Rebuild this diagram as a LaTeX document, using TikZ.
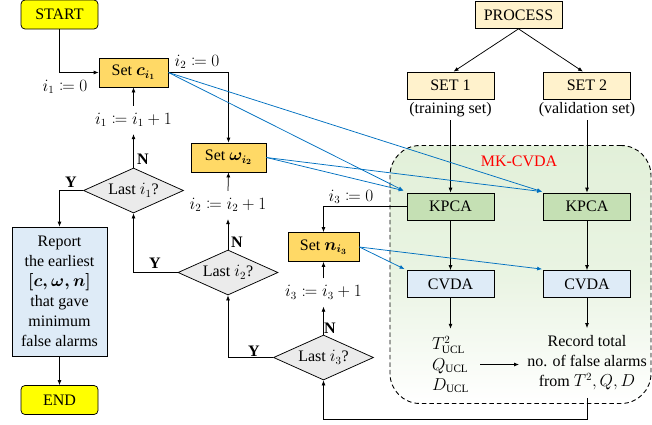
\documentclass[tikz,border=0pt]{standalone}
\usepackage{amsmath,mathtools}
\usepackage{fontspec}
\setmainfont{Liberation Serif}
\usetikzlibrary{arrows.meta,shapes.geometric}

\definecolor{termyellow}{HTML}{FFFF00}
\definecolor{setgold}{HTML}{FFD966}
\definecolor{decgray}{HTML}{EBEBEB}
\definecolor{reportblue}{HTML}{DEEBF7}
\definecolor{procyellow}{HTML}{FFF2CC}
\definecolor{kpcagreen}{HTML}{C5E0B4}
\definecolor{cvdablue}{HTML}{DEEBF7}
\definecolor{regiongreen}{HTML}{E2F0D9}
\definecolor{linkblue}{HTML}{0070C0}

\tikzset{
  base/.style={draw, line width=0.75pt, inner sep=2pt},
  term/.style={base, fill=termyellow, rounded corners=4pt, minimum width=77pt, minimum height=29pt},
  setbox/.style={base, fill=setgold, minimum height=29pt},
  dec/.style={base, shape=diamond, fill=decgray, aspect=2.22, inner sep=0.5pt,
              minimum width=100pt, minimum height=45pt},
  reportbox/.style={base, fill=reportblue, align=center, minimum width=95pt, minimum height=129pt},
  procbox/.style={base, fill=procyellow, minimum width=87pt, minimum height=27pt},
  kpcabox/.style={base, fill=kpcagreen, minimum width=87pt, minimum height=27pt},
  cvdabox/.style={base, fill=cvdablue, minimum width=87pt, minimum height=27pt},
  lbl/.style={inner xsep=3pt, inner ysep=3pt},
  inclbl/.style={inner xsep=3pt, inner ysep=7pt},
  yn/.style={font=\fontsize{16}{20}\selectfont\bfseries, inner sep=0pt},
  region/.style={draw, line width=0.9pt, dash pattern=on 4.5pt off 3pt, rounded corners=30pt,
                 top color=regiongreen, bottom color=white, middle color=regiongreen!75,
                 minimum width=261pt, minimum height=258pt},
  arr/.style={line width=0.75pt, -{Latex[length=5pt,width=4pt]}},
  bluearr/.style={line width=0.75pt, draw=linkblue, -{Latex[length=5pt,width=4pt]}, color=linkblue},
}

\begin{document}
\begin{tikzpicture}[x=1pt, y=-1pt, font=\fontsize{16}{20}\selectfont]
\useasboundingbox (0,0) rectangle (652,424);

% MK-CVDA area
\node[region] (mk) at (520.5,274.5) {};
\node[text=red] (mklabel) at (519,161) {MK-CVDA};

% left-hand loop structure
\node[term] (start) at (59.5,14.5) {START};
\node[setbox, minimum width=69pt] (setc) at (133.5,72.5) {Set $\boldsymbol{c_{i_1}}$};
\node[setbox, minimum width=75pt] (setw) at (228.5,157.5) {Set $\boldsymbol{\omega_{i_2}}$};
\node[setbox, minimum width=71pt] (setn) at (323.5,247) {Set $\boldsymbol{n_{i_3}}$};

\node[dec] (d1) at (133.5,190.5) {Last $i_1$?};
\node[dec] (d2) at (228,272.5) {Last $i_2$?};
\node[dec] (d3) at (323.5,357.5) {Last $i_3$?};

\node[inclbl] (inc1) at (133.5,120) {$i_1 \coloneqq i_1 + 1$};
\node[inclbl] (inc2) at (228,205) {$i_2 \coloneqq i_2 + 1$};
\node[inclbl] (inc3) at (323.5,292.5) {$i_3 \coloneqq i_3 + 1$};

\node[lbl] (init1) at (65,87) {$i_1 \coloneqq 0$};
\node[lbl] (init2) at (197,62) {$i_2 \coloneqq 0$};
\node[lbl] (init3) at (351,197) {$i_3 \coloneqq 0$};

\node[yn] (n1) at (143,159) {N};
\node[yn] (y1) at (71,182) {Y};
\node[yn] (n2) at (237,242) {N};
\node[yn] (y2) at (155,263) {Y};
\node[yn] (n3) at (330,328) {N};
\node[yn] (y3) at (254,351) {Y};

\node[reportbox] (report) at (59.5,291.5)
  {Report\\the earliest\\$\boldsymbol{[c,\omega,n]}$\\that gave\\minimum\\false alarms};
\node[term] (end) at (59.5,400) {END};

% process and data sets
\node[procbox] (proc) at (518.5,15) {PROCESS};
\node[procbox] (set1) at (450.5,85.5) {SET 1};
\node[procbox] (set2) at (587,85.5) {SET 2};
\node[lbl] (train) at (450.5,110) {(training set)};
\node[lbl] (valid) at (587,110) {(validation set)};

\node[kpcabox] (k1) at (450.5,206.5) {KPCA};
\node[kpcabox] (k2) at (587,206.5) {KPCA};
\node[cvdabox] (c1) at (450.5,284) {CVDA};
\node[cvdabox] (c2) at (587,284) {CVDA};

\node[lbl, align=left, inner ysep=7pt] (lim) at (450.5,364.5)
  {$T^2_{\mathrm{UCL}}$\\[1pt]$Q_{\mathrm{UCL}}$\\$D_{\mathrm{UCL}}$};
\node[lbl, align=center, inner ysep=7.5pt] (rec) at (587,363)
  {Record total\\no. of false alarms\\from $T^2, Q, D$};

\coordinate (loopc) at (587,419);

% flow connectors
\draw[arr] (start.south) |- (setc.west);
\draw[arr] (setc.east) -| (setw.north);
\draw[arr] (d1.north) -- (inc1.south);
\draw[arr] (inc1.north) -- (setc.south);
\draw[arr] (d2.north) -- (inc2.south);
\draw[arr] (inc2.north) -- (setw.south);
\draw[arr] (d3.north) -- (inc3.south);
\draw[arr] (inc3.north) -- (setn.south);
\draw[arr] (d1.west) -| (report.north);
\draw[arr] (d2.west) -| (d1.south);
\draw[arr] (d3.west) -| (d2.south);
\draw[arr] (report.south) -- (end.north);
\draw[arr] (k1.west) -| (setn.north);

\draw[arr] (proc.south) -- ([xshift=3pt]set1.north);
\draw[arr] (proc.south) -- ([xshift=-4pt]set2.north);
\draw[arr] (train) -- (k1);
\draw[arr] (valid) -- (k2);
\draw[arr] (k1) -- (c1);
\draw[arr] (k2) -- (c2);
\draw[arr] (c1.south) -- (c1.south |- lim.north);
\draw[arr] (c2.south) -- (rec.north);
\draw[arr] ([xshift=8pt]lim.east) -- ([xshift=-5pt]rec.west |- lim.east);
\draw[arr] (rec.south) -- (loopc) -| (d3.south);

% parameter links into the monitoring models
\draw[bluearr] (setc.east) -- ([shift={(-3,-2)}]k1.north west);
\draw[bluearr] (setc.east) -- ([shift={(-1,-1)}]k2.north west);
\draw[bluearr] (setw.east) -- ([shift={(-3,-2)}]k1.north west);
\draw[bluearr] (setw.east) -- ([shift={(-1,-1)}]k2.north west);
\draw[bluearr] (setn.east) -- ([shift={(-2,-1)}]c1.north west);
\draw[bluearr] (setn.east) -- ([shift={(-1,-1)}]c2.north west);
\end{tikzpicture}
\end{document}
